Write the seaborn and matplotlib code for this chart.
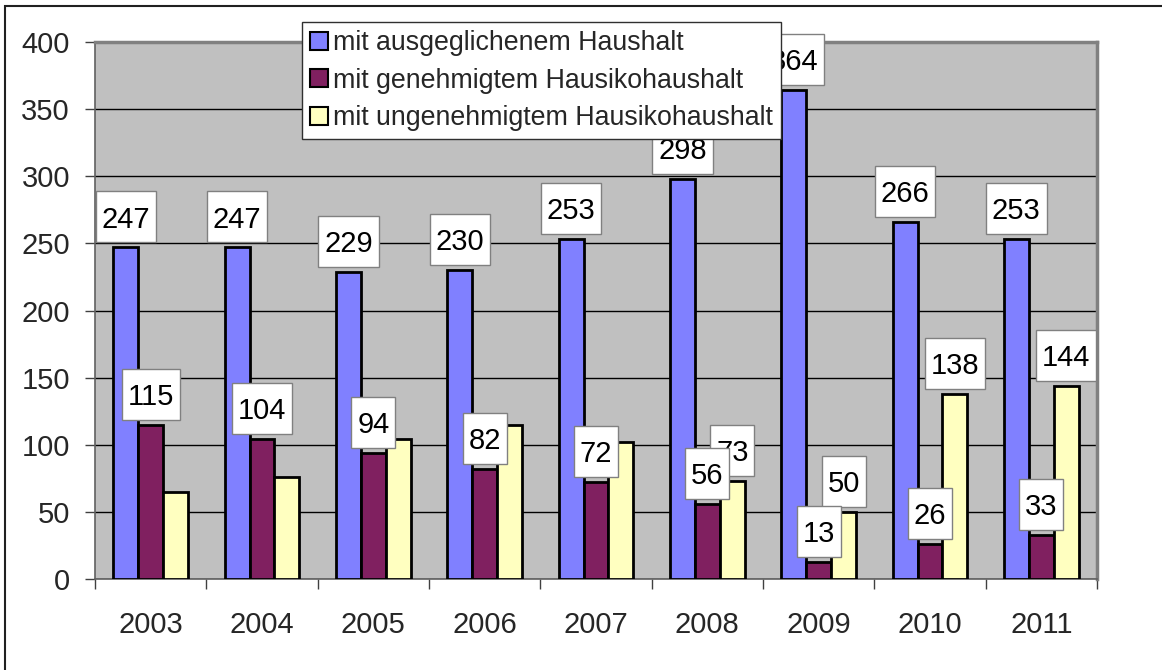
import matplotlib
matplotlib.use("Agg")
import matplotlib.pyplot as plt
from matplotlib.patches import Rectangle, Patch
from matplotlib.path import Path
import numpy as np
import pandas as pd
import seaborn as sns

years = ["2003", "2004", "2005", "2006", "2007", "2008", "2009", "2010", "2011"]
series_names = [
    "mit ausgeglichenem Haushalt",
    "mit genehmigtem Hausikohaushalt",
    "mit ungenehmigtem Hausikohaushalt",
]
ausgeglichen = [247, 247, 229, 230, 253, 298, 364, 266, 253]
genehmigt = [115, 104, 94, 82, 72, 56, 13, 26, 33]
ungenehmigt = [65, 76, 104, 115, 102, 73, 50, 138, 144]

# value labels are shown for these bars only
show_ausgeglichen = [True] * 9
show_genehmigt = [True] * 9
show_ungenehmigt = [False, False, False, False, False, True, True, True, True]

colors = ["#8080FF", "#802060", "#FFFFC0"]

df = pd.DataFrame({
    "Jahr": years * 3,
    "Wert": ausgeglichen + genehmigt + ungenehmigt,
    "Reihe": [n for n in series_names for _ in years],
})

sns.set_theme(style="white")
plt.rcParams["font.family"] = ["Liberation Sans", "DejaVu Sans"]

W, H = 1162, 670
fig = plt.figure(figsize=(W / 100, H / 100), dpi=100)
fig.patch.set_facecolor("white")
ax = fig.add_axes([95 / W, 1 - 579 / H, (1097 - 95) / W, (579 - 42) / H])

sns.barplot(
    data=df, x="Jahr", y="Wert", hue="Reihe", hue_order=series_names,
    palette=colors, saturation=1, width=0.673, gap=0,
    edgecolor="black", linewidth=2, ax=ax, zorder=3,
)

ax.set_facecolor("#C0C0C0")
ax.set_xlim(-0.5, 8.5)
ax.set_ylim(0, 400)
ax.set_yticks(np.arange(0, 401, 50))
ax.set_axisbelow(True)
ax.yaxis.grid(True, color="black", linewidth=1)
ax.xaxis.grid(False)
ax.set_xlabel("")
ax.set_ylabel("")

for side in ["left", "bottom"]:
    ax.spines[side].set_color("#606060")
    ax.spines[side].set_linewidth(1.2)
for side in ["top", "right"]:
    ax.spines[side].set_color("#808080")
    ax.spines[side].set_linewidth(2.5)

ax.tick_params(axis="y", direction="out", length=7, width=1, color="#404040",
               labelsize=21, pad=11, left=True)
ax.tick_params(axis="x", which="major", length=0, labelsize=21, pad=23)
ax.set_xticks(np.arange(-0.5, 9, 1), minor=True)
ax.tick_params(axis="x", which="minor", direction="out", length=7, width=1,
               color="#404040", bottom=True)


def label_box(x0, y0, width, height, mutation_size):
    """Tall rectangular frame centred on the digits of a value label."""
    padx = 0.2 * mutation_size
    half = 0.875 * mutation_size
    cy = y0 + 0.57 * mutation_size
    left, right = x0 - padx, x0 + width + padx
    return Path([(left, cy - half), (right, cy - half), (right, cy + half),
                 (left, cy + half), (left, cy - half)], closed=True)


# value labels in white boxes above the bars
label_z = [6, 7, 5]
for container, vals, shows, z in zip(
        ax.containers, [ausgeglichen, genehmigt, ungenehmigt],
        [show_ausgeglichen, show_genehmigt, show_ungenehmigt], label_z):
    for bar, v, show in zip(container, vals, shows):
        if not show:
            continue
        ax.annotate(
            f"{v}", xy=(bar.get_x() + bar.get_width() / 2, v),
            xytext=(0, 10), textcoords="offset points",
            ha="center", va="bottom", fontsize=21, color="black", zorder=z,
            bbox=dict(boxstyle=label_box, fc="white", ec="#808080", lw=1),
        )

if ax.get_legend() is not None:
    ax.get_legend().remove()
handles = [Patch(facecolor=c, edgecolor="black", linewidth=1.5) for c in colors]
leg = ax.legend(
    handles, series_names, loc="upper left",
    bbox_to_anchor=(302 / W, 1 - 22 / H), bbox_transform=fig.transFigure,
    fontsize=19.3, frameon=True, fancybox=False, shadow=False, framealpha=1,
    handlelength=0.67, handleheight=0.67, handletextpad=0.2,
    labelspacing=0.43, borderpad=0.3, borderaxespad=0, edgecolor="#303030",
    facecolor="white",
)
leg.get_frame().set_linewidth(1)
leg.set_zorder(10)

# outer chart frame
fig.patches.append(Rectangle((5 / W, -0.1), 1.2, 1.1 - 6 / H,
                             transform=fig.transFigure, fill=False,
                             edgecolor="#202020", linewidth=1.5))

fig.savefig("out.png", dpi=100)
